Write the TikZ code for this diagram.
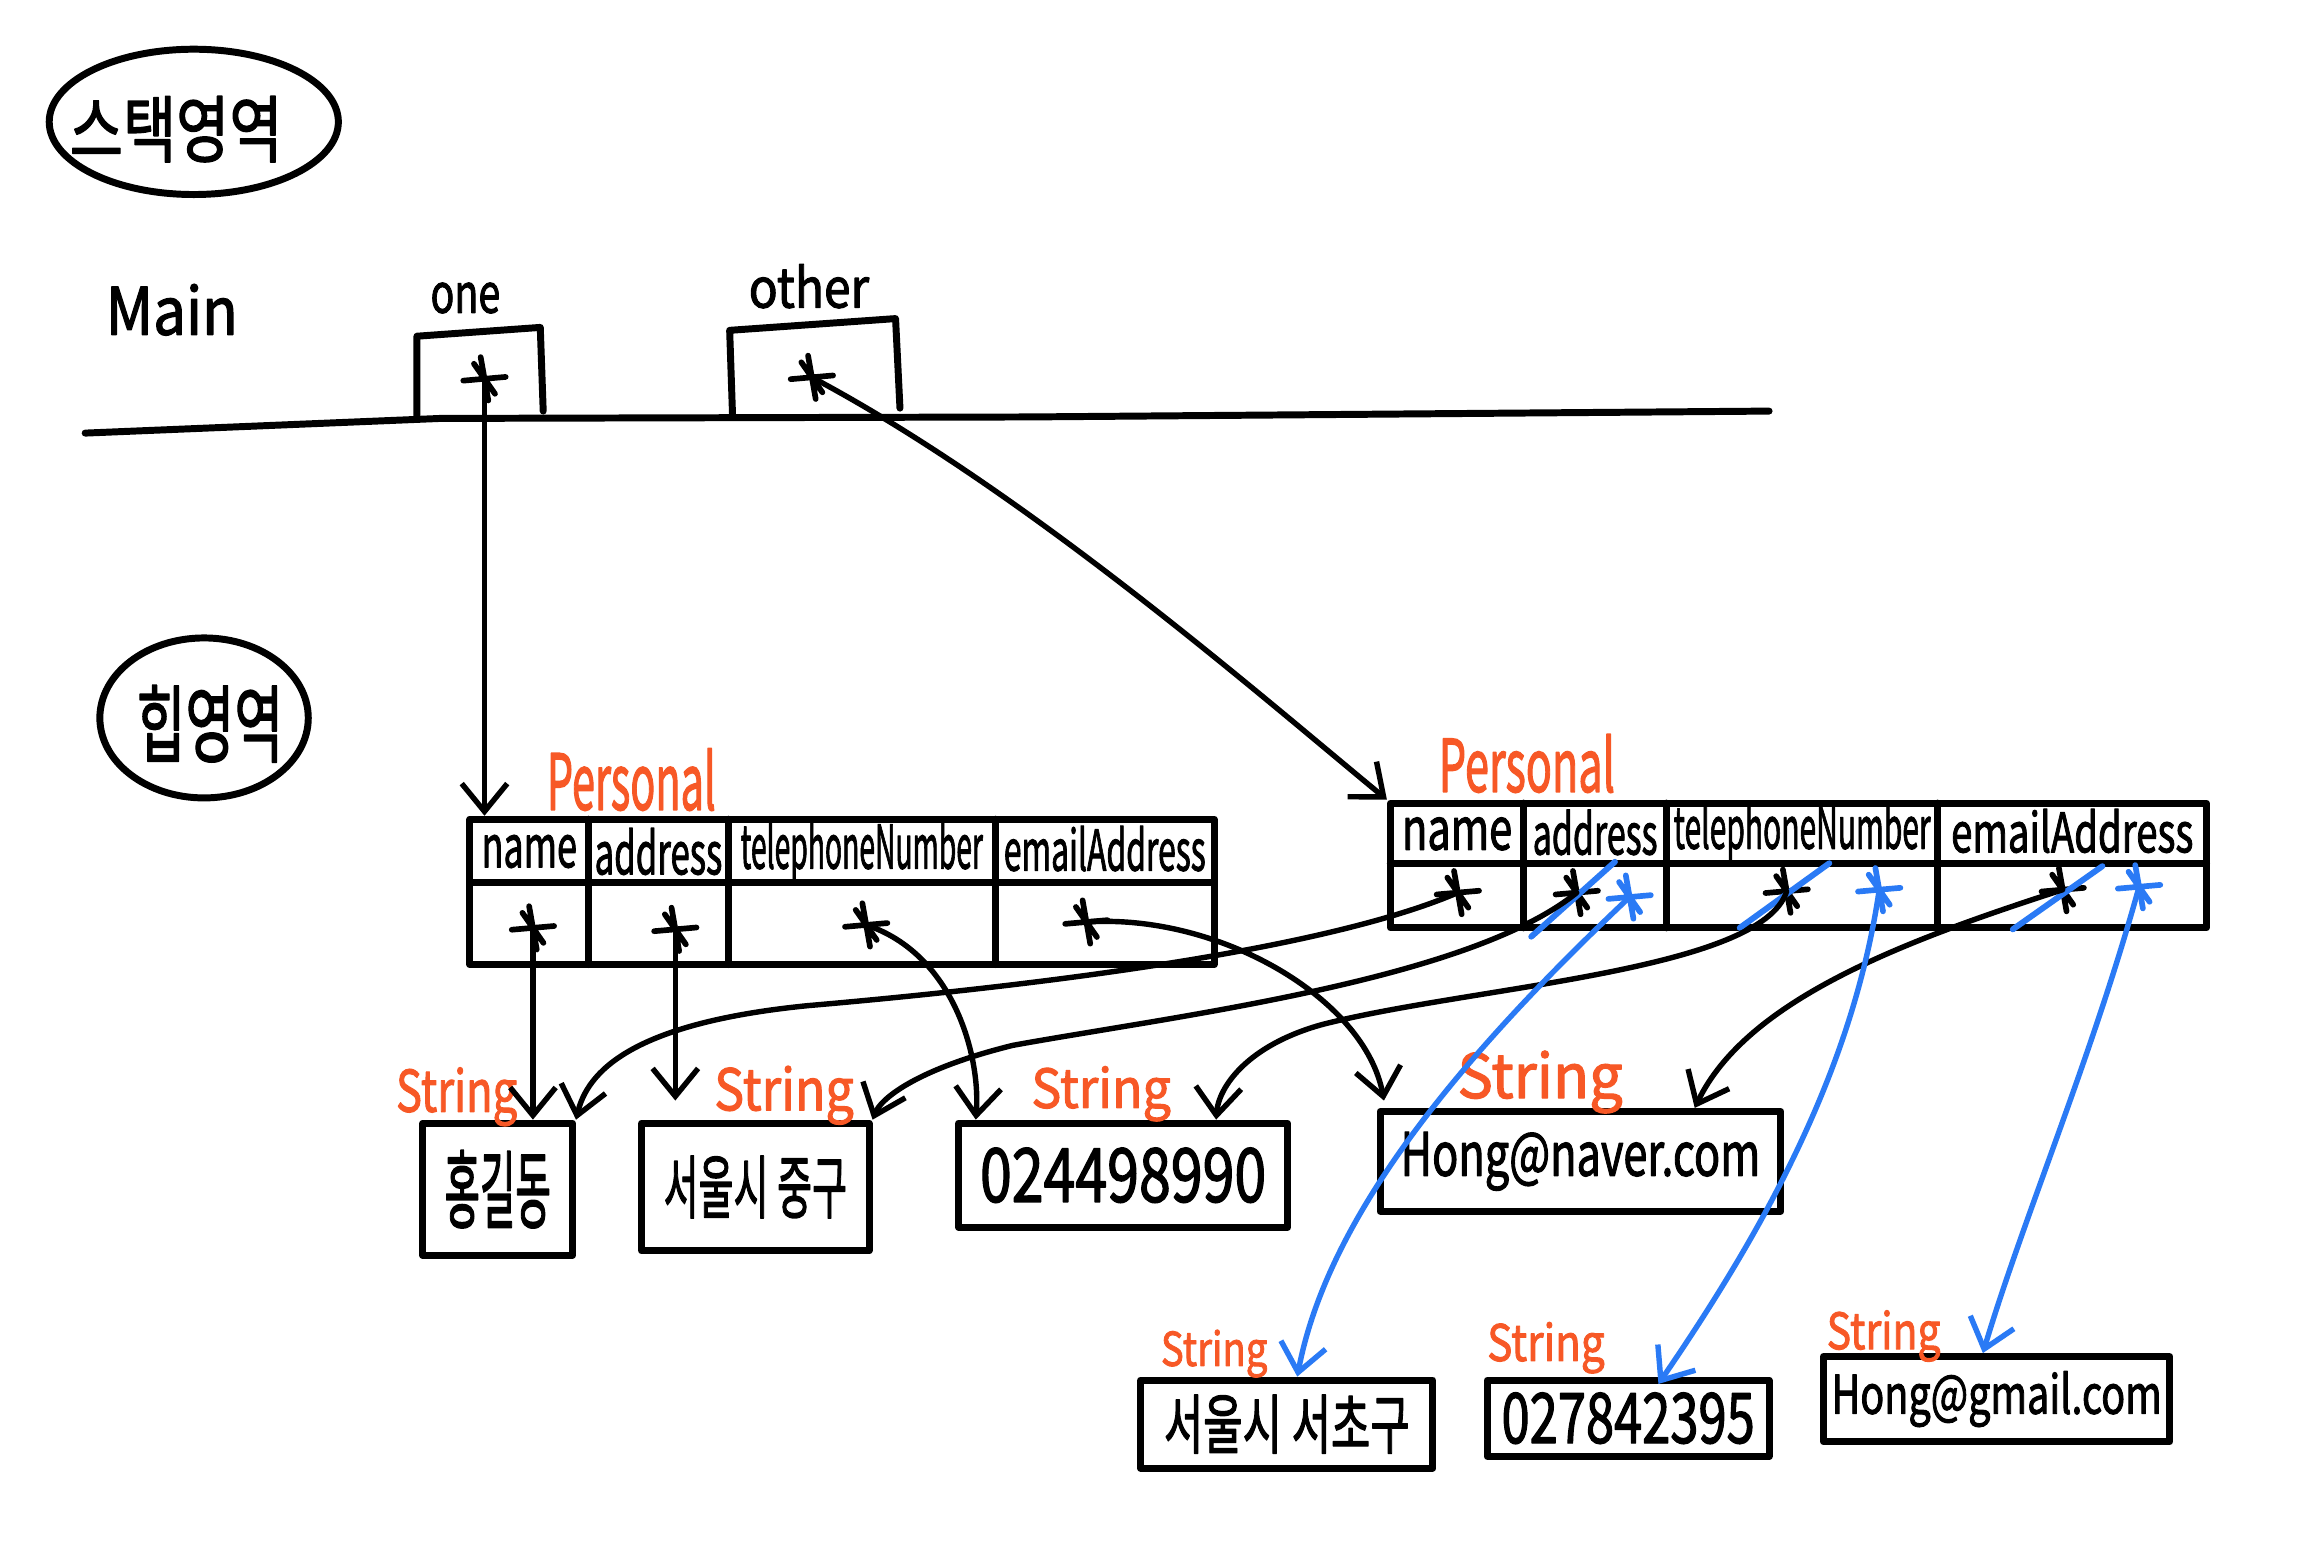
\documentclass[tikz,border=0pt]{standalone}
\usepackage{fontspec}
\setmainfont{Noto Sans CJK KR}[FakeBold=2]
\usetikzlibrary{arrows.meta,shapes.geometric}
\definecolor{hworange}{RGB}{247,88,38}
\definecolor{hwblue}{RGB}{42,122,245}
\newcommand\hwt[3]{\resizebox*{#1}{#2}{#3}}
\tikzset{
  boxline/.style={line width=2.7pt},
  tbl/.style={draw, line width=2.7pt, rectangle, inner sep=0},
  sbox/.style={draw, line width=2.7pt, rectangle, inner sep=0},
  hwell/.style={draw, line width=2.7pt, ellipse, inner sep=0},
  lbl/.style={inner sep=0},
  orn/.style={inner sep=0, text=hworange},
  arr/.style={line width=2.1pt, -{Straight Barb[length=0.38cm,width=0.62cm,line width=2.1pt]}},
  barr/.style={line width=2.1pt, hwblue, -{Straight Barb[length=0.38cm,width=0.62cm,line width=2.1pt]}},
  bstrike/.style={line width=2.3pt, hwblue},
  aster/.style={circle, minimum size=0.7cm, inner sep=0,
    path picture={\draw[line width=2.2pt, draw=#1, shift={(path picture bounding box.center)}]
      (100:0.3cm) -- (280:0.3cm) (5:0.29cm) -- (185:0.29cm) (125:0.25cm) -- (-55:0.25cm);}},
  aster/.default=black
}
\begin{document}
\begin{tikzpicture}[x=0.02cm,y=-0.02cm,line cap=round,line join=round]
\useasboundingbox (0,0) rectangle (1568,1066);
\fill[white] (0,0) rectangle (1568,1066);

% ---------- stack area ----------
\node[hwell, minimum width=3.94cm, minimum height=1.98cm] (stack) at (132,83) {};
\node[lbl] (stackt) at (120,88) {\hwt{2.9cm}{0.9cm}{스택영역}};
\node[lbl] (mainl) at (117,211) {\hwt{1.8cm}{0.7cm}{Main}};
\node[lbl] (onel) at (317,203) {\hwt{0.95cm}{0.42cm}{one}};
\node[lbl] (otherl) at (551,195) {\hwt{1.64cm}{0.6cm}{other}};
\draw[boxline] (58,295) -- (300,285) -- (700,284) -- (1205,280);
\draw[boxline] (284,284) -- (284,229) -- (368,223) -- (370,280);
\draw[boxline] (499,284) -- (497,225) -- (610,217) -- (613,278);
\node[aster] (ione) at (330,258) {};
\node[aster] (iother) at (553,257) {};

% ---------- heap area ----------
\node[hwell, minimum width=2.84cm, minimum height=2.18cm] (heap) at (139,489) {};
\node[lbl] (heapt) at (143,493) {\hwt{2.0cm}{1.05cm}{힙영역}};

% ---------- Personal 1 ----------
\node[orn] (p1l) at (430,531) {\hwt{2.3cm}{0.85cm}{Personal}};
\node[tbl, minimum width=10.14cm, minimum height=1.98cm] (p1) at (573.5,607.5) {};
\draw[boxline] (320,601) -- (827,601) (401,558) -- (401,657) (496,558) -- (496,657) (678,558) -- (678,657);
\node[lbl] (p1hn) at (360.5,580) {\hwt{1.3cm}{0.45cm}{name}};
\node[lbl] (p1ha) at (448.5,580) {\hwt{1.74cm}{0.64cm}{address}};
\node[lbl] (p1ht) at (587,580) {\hwt{3.3cm}{0.84cm}{telephoneNumber}};
\node[lbl] (p1he) at (752.5,578) {\hwt{2.75cm}{0.62cm}{emailAddress}};
\node[aster] (p1n) at (363,632) {};
\node[aster] (p1a) at (460,633) {};
\node[aster] (p1t) at (590,630) {};
\node[aster] (p1e) at (740,628) {};

% ---------- Personal 2 ----------
\node[orn] (p2l) at (1040,520) {\hwt{2.4cm}{0.8cm}{Personal}};
\node[tbl, minimum width=11.12cm, minimum height=1.7cm] (p2) at (1225,589.5) {};
\draw[boxline] (947,588) -- (1503,588) (1038,547) -- (1038,632) (1135,547) -- (1135,632) (1320,547) -- (1320,632);
\node[lbl] (p2hn) at (992.5,568) {\hwt{1.5cm}{0.45cm}{name}};
\node[lbl] (p2ha) at (1086.5,567) {\hwt{1.7cm}{0.62cm}{address}};
\node[lbl] (p2ht) at (1227.5,567) {\hwt{3.5cm}{0.8cm}{telephoneNumber}};
\node[lbl] (p2he) at (1411.5,566) {\hwt{3.3cm}{0.6cm}{emailAddress}};
\node[aster] (p2n) at (993,608) {};
\node[aster] (p2a) at (1074,608) {};
\node[aster=hwblue] (p2ab) at (1110,611) {};
\node[aster] (p2t) at (1217,607) {};
\node[aster=hwblue] (p2tb) at (1280,606) {};
\node[aster] (p2e) at (1405,606) {};
\node[aster=hwblue] (p2eb) at (1457,604) {};
\draw[bstrike] (1043,638) -- (1100,587);
\draw[bstrike] (1185,632) -- (1246,588);
\draw[bstrike] (1371,633) -- (1432,590);

% ---------- String objects ----------
\node[sbox, minimum width=2.04cm, minimum height=1.8cm] (s1) at (339,810) {\hwt{1.45cm}{1.06cm}{홍길동}};
\node[orn] (s1l) at (311,747) {\hwt{1.65cm}{0.8cm}{String}};
\node[sbox, minimum width=3.1cm, minimum height=1.74cm] (s2) at (514.5,808.5) {\hwt{2.5cm}{0.85cm}{서울시 중구}};
\node[orn] (s2l) at (534,746) {\hwt{1.9cm}{0.8cm}{String}};
\node[sbox, minimum width=4.48cm, minimum height=1.42cm] (s3) at (765,800.5) {\hwt{3.9cm}{0.75cm}{024498990}};
\node[orn] (s3l) at (750,745) {\hwt{1.9cm}{0.75cm}{String}};
\node[sbox, minimum width=5.46cm, minimum height=1.36cm] (s4) at (1076.5,791) {\hwt{4.9cm}{0.8cm}{Hong@naver.com}};
\node[orn] (s4l) at (1049,737) {\hwt{2.25cm}{0.85cm}{String}};
\node[sbox, minimum width=3.98cm, minimum height=1.2cm] (s5) at (876.5,970) {\hwt{3.35cm}{0.8cm}{서울시 서초구}};
\node[orn] (s5l) at (827,922) {\hwt{1.45cm}{0.65cm}{String}};
\node[sbox, minimum width=3.84cm, minimum height=1.04cm] (s6) at (1109,966) {\hwt{3.45cm}{0.7cm}{027842395}};
\node[orn] (s6l) at (1053,918) {\hwt{1.6cm}{0.7cm}{String}};
\node[sbox, minimum width=4.72cm, minimum height=1.16cm] (s7) at (1360,953) {\hwt{4.5cm}{0.76cm}{Hong@gmail.com}};
\node[orn] (s7l) at (1283,910) {\hwt{1.55cm}{0.7cm}{String}};

% ---------- black references ----------
\draw[arr] (ione.center) -- (ione.center |- p1.north);
\draw[arr] (iother.center) .. controls (700,335) and (860,475) .. (p2.north west);
\draw[arr] (p1n.center) -- (p1n.center |- s1.north);
\draw[arr] (p1a.center) -- ([yshift=0.26cm]p1a.center |- s2.north);
\draw[arr] (p1t.center) .. controls (650,650) and (668,720) .. ([xshift=0.28cm]s3.north west);
\draw[arr] (p1e.center) .. controls (830,622) and (930,680) .. ([xshift=0.1cm,yshift=0.1cm]s4.north west);
\draw[arr] (p2n.center) .. controls (900,648) and (700,672) .. (550,685) .. controls (430,697) and (400,730) .. (s1.north east);
\draw[arr] (p2a.center) .. controls (1000,668) and (800,692) .. (690,712) .. controls (625,728) and (600,748) .. (s2.north east);
\draw[arr] (p2t.center) .. controls (1200,662) and (1000,672) .. (900,698) .. controls (850,712) and (830,740) .. ([xshift=-1.02cm]s3.north east);
\draw[arr] (p2e.center) .. controls (1300,640) and (1190,680) .. ([xshift=-1.22cm]s4.north east);

% ---------- blue references ----------
\draw[barr] (p2ab.center) .. controls (1000,715) and (905,825) .. ([xshift=2.18cm]s5.north west);
\draw[barr] (p2tb.center) .. controls (1262,730) and (1200,840) .. ([xshift=2.38cm,yshift=-0.1cm]s6.north west);
\draw[barr] (p2eb.center) .. controls (1425,720) and (1378,830) .. ([xshift=2.22cm]s7.north west);
\end{tikzpicture}
\end{document}
